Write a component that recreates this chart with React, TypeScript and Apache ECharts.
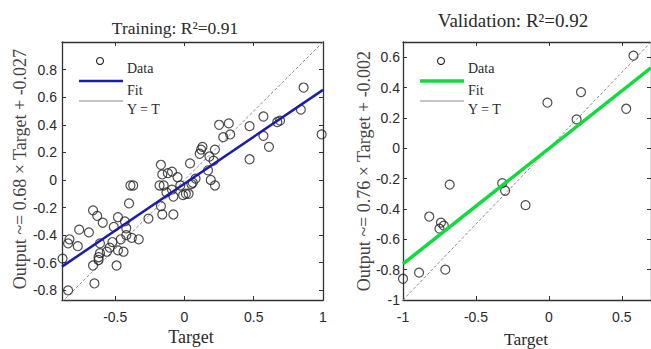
import React, { useEffect, useRef } from "react";
import * as echarts from "echarts";

// Training panel data (Target, Output)
const trainPoints: number[][] = [
  [0.86, 0.67], [0.84, 0.51], [0.99, 0.33], [0.67, 0.42], [0.69, 0.43],
  [0.57, 0.46], [0.57, 0.32], [0.61, 0.24], [0.47, 0.39], [0.47, 0.15],
  [0.25, 0.4], [0.32, 0.41], [0.28, 0.31], [0.33, 0.33], [0.22, 0.22],
  [0.12, 0.22], [0.11, 0.19], [0.18, 0.17], [0.21, 0.14], [0.04, 0.12],
  [-0.17, 0.11], [0.17, 0.07], [-0.09, 0.06], [-0.16, 0.04], [0.19, 0.0],
  [0.22, -0.04], [-0.05, 0.02], [-0.18, -0.04], [-0.15, -0.04], [-0.09, -0.07],
  [-0.03, -0.04], [0.06, -0.02], [0.05, -0.03], [0.03, -0.1], [-0.01, -0.11],
  [0.01, -0.1], [-0.08, -0.12], [-0.13, -0.09], [-0.17, -0.19], [-0.16, -0.25],
  [-0.08, -0.25], [-0.39, -0.04], [-0.37, -0.04], [-0.4, -0.17], [-0.26, -0.28],
  [-0.48, -0.27], [-0.43, -0.3], [-0.42, -0.35], [-0.42, -0.4], [-0.51, -0.34],
  [-0.66, -0.22], [-0.63, -0.26], [-0.59, -0.31], [-0.69, -0.38], [-0.76, -0.36],
  [-0.83, -0.43], [-0.84, -0.46], [-0.77, -0.48], [-0.88, -0.57], [-0.61, -0.46],
  [-0.52, -0.45], [-0.46, -0.43], [-0.38, -0.42], [-0.33, -0.43], [-0.54, -0.49],
  [-0.56, -0.52], [-0.48, -0.51], [-0.44, -0.52], [-0.62, -0.56], [-0.62, -0.58],
  [-0.61, -0.53], [-0.49, -0.62], [-0.66, -0.62], [-0.65, -0.75], [-0.84, -0.8],
  [0.13, 0.24], [0.08, 0.01], [-0.12, 0.05],
];

// Validation panel data (Target, Output)
const valPoints: number[][] = [
  [0.58, 0.61], [0.22, 0.37], [-0.01, 0.3], [0.19, 0.19], [0.53, 0.26],
  [-0.68, -0.24], [-0.32, -0.23], [-0.3, -0.28], [-0.16, -0.375], [-0.82, -0.45],
  [-0.74, -0.49], [-0.72, -0.51], [-0.75, -0.53], [-0.89, -0.82], [-0.71, -0.8],
  [-1.0, -0.86],
];

// Fit lines (endpoints over the axis range) and Y = T lines
const trainFit: number[][] = [[-0.884, -0.628], [1.0, 0.653]];
const trainYT: number[][] = [[-0.884, -0.884], [1.0, 1.0]];
const valFit: number[][] = [[-1.0, -0.762], [0.7, 0.53]];
const valYT: number[][] = [[-1.0, -1.0], [0.7, 0.7]];

// Axis ranges and tick labels
const trainXRange = [-0.884, 1.0];
const trainYRange = [-0.87, 1.0];
const valXRange = [-1.0, 0.7];
const valYRange = [-1.0, 0.7];
const trainXTicks = [-0.5, 0, 0.5, 1];
const trainYTicks = [-0.8, -0.6, -0.4, -0.2, 0, 0.2, 0.4, 0.6, 0.8];
const valXTicks = [-1, -0.5, 0, 0.5];
const valYTicks = [-1, -0.8, -0.6, -0.4, -0.2, 0, 0.2, 0.4, 0.6];

// Texts
const trainTitle = "Training: R²=0.91";
const valTitle = "Validation: R²=0.92";
const trainYName = "Output ~= 0.68 × Target + -0.027";
const valYName = "Output ~= 0.76 × Target + -0.002";
const xName = "Target";
const legendLabels = ["Data", "Fit", "Y = T"];

const SERIF = "'Liberation Serif', 'Times New Roman', serif";
const SANS = "'Liberation Sans', Arial, sans-serif";
const AX = "#333";
const TXT = "#2a2a2a";
const BLUE = "#1c1ca8";
const GREEN = "#0fdc3c";
const GRAY = "#8a8a8a";

function makeX(grid: number, range: number[], ticks: number[], pos: "bottom" | "top", labels: boolean): any {
  return {
    type: "value",
    gridIndex: grid,
    position: pos,
    min: range[0],
    max: range[1],
    axisLine: { show: true, onZero: false, lineStyle: { color: AX, width: 1.3 } },
    axisTick: { show: true, inside: true, length: 4, customValues: ticks, lineStyle: { color: AX } },
    axisLabel: {
      show: labels,
      customValues: ticks,
      margin: 10,
      fontFamily: SANS,
      fontSize: 14,
      color: TXT,
      formatter: (v: number) => String(v),
    },
    splitLine: { show: false },
  };
}

function makeY(grid: number, range: number[], ticks: number[], pos: "left" | "right", labels: boolean, margin: number): any {
  return {
    type: "value",
    gridIndex: grid,
    position: pos,
    min: range[0],
    max: range[1],
    axisLine: { show: true, onZero: false, lineStyle: { color: AX, width: 1.3 } },
    axisTick: { show: true, inside: true, length: 4, customValues: ticks, lineStyle: { color: AX } },
    axisLabel: {
      show: labels,
      customValues: ticks,
      margin,
      fontFamily: SANS,
      fontSize: 14,
      color: TXT,
      formatter: (v: number) => String(v),
    },
    splitLine: { show: false },
  };
}

function legend(x0: number, color: string, fitWidth: number): any[] {
  return [
    { type: "circle", shape: { cx: x0 + 21, cy: 61, r: 3.5 }, style: { fill: "none", stroke: "#222", lineWidth: 1.1 } },
    { type: "text", x: x0 + 48, y: 68, style: { text: legendLabels[0], font: `14px ${SERIF}`, fill: TXT, verticalAlign: "middle" } },
    { type: "line", shape: { x1: x0, y1: 81, x2: x0 + 44, y2: 81 }, style: { stroke: color, lineWidth: fitWidth } },
    { type: "text", x: x0 + 48, y: 90, style: { text: legendLabels[1], font: `14px ${SERIF}`, fill: TXT, verticalAlign: "middle" } },
    { type: "line", shape: { x1: x0, y1: 101, x2: x0 + 44, y2: 101 }, style: { stroke: GRAY, lineWidth: 1 } },
    { type: "text", x: x0 + 48, y: 109, style: { text: legendLabels[2], font: `14px ${SERIF}`, fill: TXT, verticalAlign: "middle" } },
  ];
}

export default function App() {
  const ref = useRef<HTMLDivElement>(null);
  useEffect(() => {
    if (!ref.current) return;
    const chart = echarts.init(ref.current, undefined, { renderer: "svg" });
    const scatterStyle = { color: "rgba(0,0,0,0)", borderColor: "#222", borderWidth: 1.2 };
    chart.setOption({
      animation: false,
      backgroundColor: "#fff",
      grid: [
        { left: 62, top: 42, width: 261, height: 258, show: false },
        { left: 403, top: 42, width: 259, height: 258, show: false },
      ],
      xAxis: [
        makeX(0, trainXRange, trainXTicks, "bottom", true),
        makeX(0, trainXRange, trainXTicks, "top", false),
        makeX(1, valXRange, valXTicks, "bottom", true),
        makeX(1, valXRange, valXTicks, "top", false),
      ],
      yAxis: [
        makeY(0, trainYRange, trainYTicks, "left", true, 5),
        makeY(0, trainYRange, trainYTicks, "right", false, 5),
        makeY(1, valYRange, valYTicks, "left", true, 3),
        makeY(1, valYRange, valYTicks, "right", false, 3),
      ],
      series: [
        {
          type: "line", xAxisIndex: 0, yAxisIndex: 0, data: trainYT, showSymbol: false, z: 1,
          lineStyle: { color: GRAY, width: 1, type: [3, 2] },
        },
        {
          type: "scatter", xAxisIndex: 0, yAxisIndex: 0, data: trainPoints, symbol: "circle", symbolSize: 9, z: 2,
          itemStyle: scatterStyle,
        },
        {
          type: "line", xAxisIndex: 0, yAxisIndex: 0, data: trainFit, showSymbol: false, z: 3,
          lineStyle: { color: BLUE, width: 2.5 },
        },
        {
          type: "line", xAxisIndex: 2, yAxisIndex: 2, data: valYT, showSymbol: false, z: 1,
          lineStyle: { color: GRAY, width: 1, type: [3, 2] },
        },
        {
          type: "scatter", xAxisIndex: 2, yAxisIndex: 2, data: valPoints, symbol: "circle", symbolSize: 9, z: 2,
          itemStyle: scatterStyle,
        },
        {
          type: "line", xAxisIndex: 2, yAxisIndex: 2, data: valFit, showSymbol: false, z: 3,
          lineStyle: { color: GREEN, width: 3.5 },
        },
      ],
      graphic: [
        { type: "text", x: 175, y: 28, style: { text: trainTitle, font: `17.5px ${SERIF}`, fill: TXT, align: "center", verticalAlign: "middle" } },
        { type: "text", x: 513, y: 20, style: { text: valTitle, font: `19px ${SERIF}`, fill: TXT, align: "center", verticalAlign: "middle" } },
        { type: "text", x: 20, y: 169, rotation: Math.PI / 2, style: { text: trainYName, font: `18px ${SERIF}`, fill: "#444", align: "center", verticalAlign: "middle" } },
        { type: "text", x: 364, y: 171, rotation: Math.PI / 2, style: { text: valYName, font: `18px ${SERIF}`, fill: "#444", align: "center", verticalAlign: "middle" } },
        { type: "text", x: 191, y: 337, style: { text: xName, font: `18px ${SERIF}`, fill: TXT, align: "center", verticalAlign: "middle" } },
        { type: "text", x: 526, y: 339, style: { text: xName, font: `17.5px ${SERIF}`, fill: TXT, align: "center", verticalAlign: "middle" } },
        ...legend(79, BLUE, 2.5),
        ...legend(420, GREEN, 3.5),
      ],
    });
    return () => chart.dispose();
  }, []);
  return (
    <div
      ref={ref}
      style={{ position: "fixed", left: 0, top: 0, width: 651, height: 349 }}
    />
  );
}
